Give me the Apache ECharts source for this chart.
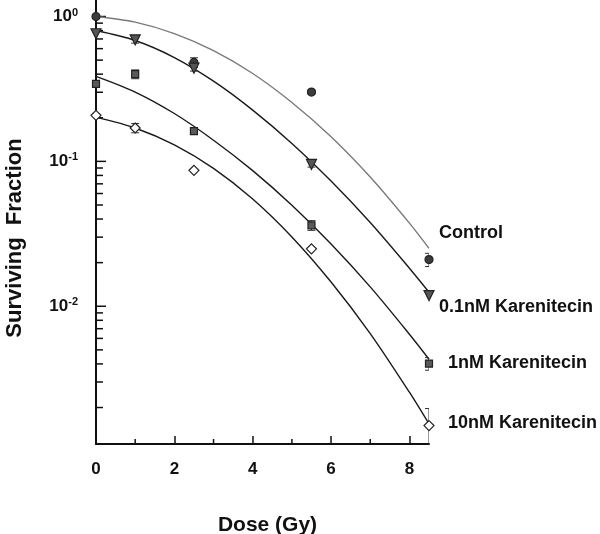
<!DOCTYPE html>
<html>
<head>
<meta charset="utf-8">
<script src="https://cdn.jsdelivr.net/npm/echarts@6/dist/echarts.min.js"></script>
<style>
  html, body { margin: 0; padding: 0; background: #fff; }
  #chart { width: 600px; height: 534px; }
</style>
</head>
<body>
<div id="chart"></div>
<script>
// measured points (dose in Gy, surviving fraction, +/- error)
const doses = [0, 1, 2.5, 5.5, 8.5]
const controlSF = [1.0, null, 0.482, 0.301, 0.0210]
const controlErr = [0, 0, 0.037, 0.010, 0.0022]
const nm01SF = [0.76, 0.69, 0.44, 0.0953, 0.01185]
const nm01Err = [0, 0.035, 0.02, 0.004, 0]
const nm1SF = [0.343, 0.40, 0.162, 0.0362, 0.00402]
const nm1Err = [0, 0.028, 0.008, 0.0028, 0.0004]
const nm10SF = [0.208, 0.170, 0.0867, 0.0249, 0.0015]
const nm10Err = [0, 0.0125, 0, 0, 0.00047]

// fitted curves
const fitDoses = [0, 1, 2, 3, 4, 5, 6, 7, 8, 8.5]
const controlFit = [1.0, 0.914, 0.762, 0.581, 0.404, 0.255, 0.148, 0.078, 0.0375, 0.0251]
const nm01Fit = [0.80, 0.683, 0.521, 0.358, 0.226, 0.133, 0.0731, 0.0378, 0.0183, 0.0125]
const nm1Fit = [0.386, 0.301, 0.214, 0.140, 0.0863, 0.0498, 0.0269, 0.0136, 0.00641, 0.00431]
const nm10Fit = [0.202, 0.170, 0.130, 0.0895, 0.0550, 0.0301, 0.0147, 0.00648, 0.00255, 0.00154]

const seriesNames = ['Control', '0.1nM Karenitecin', '1nM Karenitecin', '10nM Karenitecin']

// axis ticks
const yMin = 0.00112
const yMax = 1.3
const yMajorTicks = [0.01, 0.1, 1]
const yMinorTicks = [0.002, 0.003, 0.004, 0.005, 0.006, 0.007, 0.008, 0.009,
  0.02, 0.03, 0.04, 0.05, 0.06, 0.07, 0.08, 0.09,
  0.2, 0.3, 0.4, 0.5, 0.6, 0.7, 0.8, 0.9]
const xMinorTicks = [1, 3, 5, 7]

const FONT = 'Liberation Sans, Arial, sans-serif'
const INK = '#111'

const pairs = (xs, ys) => xs.map((x, i) => [x, ys[i]]).filter(p => p[1] != null)
const errRows = (ys, es) => doses.map((d, i) => [d, ys[i], es[i]]).filter(r => r[1] != null && r[2] > 0)

function errorBarItem(params, api) {
  const x = api.value(0)
  const y = api.value(1)
  const e = api.value(2)
  const lowClipped = y - e <= yMin
  const hi = api.coord([x, y + e])
  const lo = api.coord([x, lowClipped ? yMin : y - e])
  const w = 4
  const children = [
    { type: 'line', shape: { x1: hi[0], y1: hi[1], x2: lo[0], y2: lo[1] } },
    { type: 'line', shape: { x1: hi[0] - w, y1: hi[1], x2: hi[0] + w, y2: hi[1] } }
  ]
  if (!lowClipped) {
    children.push({ type: 'line', shape: { x1: lo[0] - w, y1: lo[1], x2: lo[0] + w, y2: lo[1] } })
  }
  children.forEach(c => { c.style = { stroke: '#333', lineWidth: 1 } })
  return { type: 'group', children }
}

const myChart = echarts.init(document.getElementById('chart'))

const fitLine = (name, data, color) => ({
  name,
  type: 'line',
  data: pairs(fitDoses, data),
  smooth: 0.3,
  symbol: 'none',
  lineStyle: { color, width: 1.4 },
  z: 2
})

const points = (name, data, symbol, size, fill, rotate) => ({
  name,
  type: 'scatter',
  data: pairs(doses, data),
  symbol,
  symbolSize: size,
  symbolRotate: rotate || 0,
  itemStyle: { color: fill, borderColor: '#222', borderWidth: 1.2, opacity: 1 },
  z: 4
})

const errors = (ys, es) => ({
  type: 'custom',
  renderItem: errorBarItem,
  data: errRows(ys, es),
  clip: true,
  z: 3
})

myChart.setOption({
  animation: false,
  backgroundColor: '#fff',
  grid: { left: 96, right: 171, top: 0, bottom: 90, containLabel: false, outerBoundsMode: 'none' },
  xAxis: {
    type: 'value',
    min: 0,
    max: 8.5,
    interval: 2,
    name: 'Dose (Gy)',
    nameLocation: 'middle',
    nameGap: 71,
    nameTextStyle: { fontFamily: FONT, fontSize: 21, fontWeight: 'bold', color: INK, padding: [0, 0, 0, 10] },
    axisLine: { lineStyle: { color: INK, width: 2 } },
    axisTick: { inside: true, length: 8, lineStyle: { color: INK, width: 1.5 } },
    axisLabel: {
      margin: 17,
      showMaxLabel: false,
      fontFamily: FONT,
      fontSize: 17,
      fontWeight: 'bold',
      color: INK
    },
    splitLine: { show: false }
  },
  yAxis: {
    type: 'log',
    logBase: 10,
    min: yMin,
    max: yMax,
    name: 'Surviving  Fraction',
    nameLocation: 'middle',
    nameGap: 70,
    nameTextStyle: { fontFamily: FONT, fontSize: 22, fontWeight: 'bold', color: INK, padding: [0, 32, 0, 0] },
    axisLine: { lineStyle: { color: INK, width: 2 } },
    axisTick: { show: false },
    axisLabel: {
      margin: 18,
      formatter: (v) => {
        const e = Math.log10(v)
        const r = Math.round(e)
        if (Math.abs(e - r) > 1e-6) return ''
        return '{b|10}{s|' + r + '}'
      },
      rich: {
        b: { fontFamily: FONT, fontSize: 17, fontWeight: 'bold', color: INK, lineHeight: 19 },
        s: { fontFamily: FONT, fontSize: 11, fontWeight: 'bold', color: INK, verticalAlign: 'top', lineHeight: 11 }
      }
    },
    splitLine: { show: false },
    minorTick: { show: false }
  },
  graphic: [
    { type: 'text', left: 439, top: 224, style: { text: seriesNames[0], font: 'bold 18px ' + FONT, fill: INK } },
    { type: 'text', left: 439, top: 298, style: { text: seriesNames[1], font: 'bold 18px ' + FONT, fill: INK } },
    { type: 'text', left: 448, top: 354, style: { text: seriesNames[2], font: 'bold 18px ' + FONT, fill: INK } },
    { type: 'text', left: 448, top: 414, style: { text: seriesNames[3], font: 'bold 18px ' + FONT, fill: INK } }
  ],
  series: [
    // axis ticks drawn through the axis scales
    {
      type: 'custom',
      silent: true,
      clip: false,
      data: yMajorTicks.map(v => [0, v, 10]).concat(yMinorTicks.map(v => [0, v, 7])),
      renderItem: (params, api) => {
        const p = api.coord([0, api.value(1)])
        return { type: 'line', shape: { x1: p[0], y1: p[1], x2: p[0] + api.value(2), y2: p[1] }, style: { stroke: INK, lineWidth: 1.5 } }
      },
      z: 1
    },
    {
      type: 'custom',
      silent: true,
      clip: false,
      data: xMinorTicks.map(v => [v, yMin, 5]),
      renderItem: (params, api) => {
        const p = api.coord([api.value(0), yMin])
        return { type: 'line', shape: { x1: p[0], y1: p[1], x2: p[0], y2: p[1] - api.value(2) }, style: { stroke: INK, lineWidth: 1.5 } }
      },
      z: 1
    },
    fitLine(seriesNames[0], controlFit, '#7a7a7a'),
    fitLine(seriesNames[1], nm01Fit, '#1a1a1a'),
    fitLine(seriesNames[2], nm1Fit, '#1a1a1a'),
    fitLine(seriesNames[3], nm10Fit, '#1a1a1a'),
    errors(controlSF, controlErr),
    errors(nm01SF, nm01Err),
    errors(nm1SF, nm1Err),
    errors(nm10SF, nm10Err),
    points(seriesNames[0], controlSF, 'circle', 8, '#3c3c3c'),
    points(seriesNames[1], nm01SF, 'triangle', 10, '#555', 180),
    points(seriesNames[2], nm1SF, 'rect', 7, '#5a5a5a'),
    points(seriesNames[3], nm10SF, 'diamond', 10, '#fff')
  ]
})

window.addEventListener('resize', () => {
  myChart.resize()
})
</script>
</body>
</html>
